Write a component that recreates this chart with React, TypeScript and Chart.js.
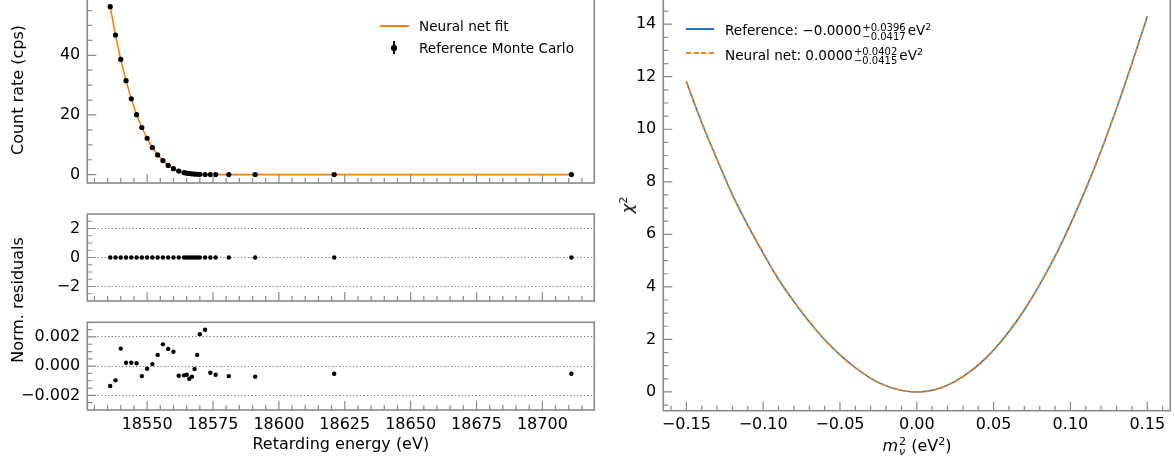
import React, { useEffect, useRef } from "react";
import { Chart, registerables } from "chart.js";

Chart.register(...registerables);

// ---------------- data ----------------
const energies = [
  18536, 18538, 18540, 18542, 18544, 18546, 18548, 18550, 18552, 18554, 18556, 18558, 18560, 18562,
  18564, 18565, 18566, 18567, 18568, 18569, 18570, 18572, 18574, 18576, 18581, 18591, 18621, 18711,
];
const countRate = [
  56.3, 46.8, 38.6, 31.5, 25.4, 20.1, 15.8, 12.2, 9.1, 6.6, 4.7, 3.1, 2.0, 1.2,
  0.7, 0.5, 0.38, 0.28, 0.2, 0.14, 0.1, 0.05, 0.03, 0.02, 0.012, 0.011, 0.01, 0.01,
];
const fitRate = [
  56.3, 46.8, 38.6, 31.5, 25.4, 20.1, 15.8, 12.2, 9.1, 6.6, 4.7, 3.1, 2.0, 1.2,
  0.7, 0.5, 0.38, 0.28, 0.2, 0.14, 0.1, 0.05, 0.03, 0.02, 0.012, 0.011, 0.01, 0.01,
];
const normResiduals = [
  0, 0, 0, 0, 0, 0, 0, 0, 0, 0, 0, 0, 0, 0,
  0, 0, 0, 0, 0, 0, 0, 0, 0, 0, 0, 0, 0, 0,
];
const relResiduals = [
  -0.00136, -0.00097, 0.0012, 0.00023, 0.00023, 0.0002, -0.00068, -0.00018, 0.00014, 0.00077,
  0.00149, 0.00118, 0.00099, -0.00066, -0.00063, -0.00059, -0.00086, -0.00072, -0.0002, 0.00077,
  0.00219, 0.00249, -0.00045, -0.00059, -0.00068, -0.00072, -0.00052, -0.00052,
];

const mSq = [
  -0.15, -0.14, -0.13, -0.12, -0.11, -0.1, -0.09, -0.08, -0.07, -0.06, -0.05, -0.04, -0.03, -0.02, -0.01,
  0, 0.01, 0.02, 0.03, 0.04, 0.05, 0.06, 0.07, 0.08, 0.09, 0.1, 0.11, 0.12, 0.13, 0.14, 0.15,
];
const chiRef = [
  11.81, 10.25, 8.85, 7.5, 6.34, 5.28, 4.28, 3.44, 2.67, 1.99, 1.41, 0.92, 0.52, 0.23, 0.06,
  0, 0.064, 0.26, 0.58, 1.03, 1.6, 2.3, 3.13, 4.09, 5.17, 6.39, 7.73, 9.19, 10.79, 12.5, 14.29,
];
const chiNN = [
  11.83, 10.27, 8.87, 7.52, 6.36, 5.3, 4.3, 3.46, 2.69, 2.0, 1.42, 0.93, 0.53, 0.23, 0.06,
  0, 0.062, 0.25, 0.57, 1.01, 1.58, 2.28, 3.11, 4.07, 5.15, 6.37, 7.71, 9.18, 10.78, 12.49, 14.29,
];

// tick values
const energyTicks = [18550, 18575, 18600, 18625, 18650, 18675, 18700];
const rateTicks = [0, 20, 40];
const normTicks = [-2, 0, 2];
const relTicks = [-0.002, 0, 0.002];
const mSqTicks = [-0.15, -0.1, -0.05, 0, 0.05, 0.1, 0.15];
const chiTicks = [0, 2, 4, 6, 8, 10, 12, 14];

// ---------------- style ----------------
const FONT = '"DejaVu Sans", sans-serif';
const SPINE = "#8a8a8a";
const ORANGE = "#ff7f0e";
const BLUE = "#1f77b4";
const TICK_FONT = 16;

const minorTicks = (lo: number, hi: number, step: number, majors: number[]) => {
  const out: number[] = [];
  const n = Math.round((hi - lo) / step);
  for (let i = 0; i <= n; i++) {
    const v = lo + i * step;
    if (!majors.some((m) => Math.abs(m - v) < step * 1e-3)) out.push(v);
  }
  return out;
};

const fmt = (d: number) => (v: number) => {
  const s = Math.abs(v) < 1e-12 ? (0).toFixed(d) : v.toFixed(d);
  return s.replace("-", "\u2212");
};

const makeFrame = (xMajor: number[], xMinor: number[], yMajor: number[], yMinor: number[]) => ({
  id: "frame",
  afterDatasetsDraw(chart: any) {
    const { ctx, chartArea: a } = chart;
    const xs = chart.scales.x;
    const ys = chart.scales.y;
    ctx.save();
    ctx.strokeStyle = SPINE;
    ctx.lineWidth = 1.2;
    ctx.beginPath();
    const tx = (v: number, len: number) => {
      const p = xs.getPixelForValue(v);
      if (p < a.left - 0.5 || p > a.right + 0.5) return;
      ctx.moveTo(p, a.bottom);
      ctx.lineTo(p, a.bottom - len);
    };
    const ty = (v: number, len: number) => {
      const p = ys.getPixelForValue(v);
      if (p < a.top - 0.5 || p > a.bottom + 0.5) return;
      ctx.moveTo(a.left, p);
      ctx.lineTo(a.left + len, p);
    };
    xMajor.forEach((v) => tx(v, 9));
    xMinor.forEach((v) => tx(v, 5));
    yMajor.forEach((v) => ty(v, 9));
    yMinor.forEach((v) => ty(v, 5));
    ctx.stroke();
    ctx.lineWidth = 1.6;
    ctx.strokeRect(a.left, a.top, a.right - a.left, a.bottom - a.top);
    ctx.restore();
  },
});

type Panel = {
  datasets: any[];
  xRange: [number, number];
  yRange: [number, number];
  xMajor: number[];
  xMinor: number[];
  yMajor: number[];
  yMinor: number[];
  xLabel: ((v: number) => string) | null;
  yLabel: (v: number) => string;
  yWidth: number;
  xHeight: number;
  padding: { top: number; right: number; bottom: number; left: number };
  yGrid: boolean;
};

const buildChart = (canvas: HTMLCanvasElement, p: Panel) =>
  new Chart(canvas, {
    type: "scatter",
    data: { datasets: p.datasets },
    options: {
      animation: false,
      responsive: false,
      devicePixelRatio: 1,
      layout: { padding: p.padding },
      plugins: { legend: { display: false }, tooltip: { enabled: false } },
      scales: {
        x: {
          type: "linear",
          min: p.xRange[0],
          max: p.xRange[1],
          afterBuildTicks: (s: any) => {
            s.ticks = p.xMajor.map((v) => ({ value: v }));
          },
          afterFit: (s: any) => {
            s.height = p.xHeight;
            s.paddingLeft = 0;
            s.paddingRight = 0;
          },
          grid: { display: false, drawTicks: false },
          border: { display: false },
          ticks: {
            display: p.xLabel !== null,
            autoSkip: false,
            maxRotation: 0,
            minRotation: 0,
            padding: 5,
            color: "#000",
            font: { family: FONT, size: TICK_FONT },
            callback: (v: any) => (p.xLabel ? p.xLabel(Number(v)) : ""),
          },
        },
        y: {
          type: "linear",
          min: p.yRange[0],
          max: p.yRange[1],
          afterBuildTicks: (s: any) => {
            s.ticks = p.yMajor.map((v) => ({ value: v }));
          },
          afterFit: (s: any) => {
            s.width = p.yWidth;
            s.paddingTop = 0;
            s.paddingBottom = 0;
          },
          grid: { display: p.yGrid, drawTicks: false, color: "#7a7a7a", lineWidth: 1 },
          border: { display: false, dash: [1.3, 2.2] },
          ticks: {
            autoSkip: false,
            padding: 7,
            color: "#000",
            font: { family: FONT, size: TICK_FONT },
            callback: (v: any) => p.yLabel(Number(v)),
          },
        },
      },
    } as any,
    plugins: [makeFrame(p.xMajor, p.xMinor, p.yMajor, p.yMinor)],
  });

const pts = (xs: number[], ys: number[]) => xs.map((x, i) => ({ x, y: ys[i] }));

export default function App() {
  const topRef = useRef<HTMLCanvasElement>(null);
  const midRef = useRef<HTMLCanvasElement>(null);
  const botRef = useRef<HTMLCanvasElement>(null);
  const rightRef = useRef<HTMLCanvasElement>(null);

  useEffect(() => {
    const eRange: [number, number] = [18527.3, 18719.7];
    const eMinor = minorTicks(18530, 18715, 5, energyTicks);
    const charts: Chart[] = [];

    charts.push(
      buildChart(topRef.current!, {
        datasets: [
          {
            label: "Reference Monte Carlo",
            data: pts(energies, countRate),
            showLine: false,
            pointRadius: 2.6,
            pointBackgroundColor: "#000",
            pointBorderWidth: 0,
          },
          {
            label: "Neural net fit",
            data: pts(energies, fitRate),
            showLine: true,
            borderColor: ORANGE,
            borderWidth: 1.6,
            pointRadius: 0,
            tension: 0,
          },
        ],
        xRange: eRange,
        yRange: [-2.8, 59.1],
        xMajor: energyTicks,
        xMinor: eMinor,
        yMajor: rateTicks,
        yMinor: minorTicks(5, 55, 5, rateTicks),
        xLabel: null,
        yLabel: fmt(0),
        yWidth: 87.3,
        xHeight: 7,
        padding: { top: 18.3, right: 5.7, bottom: 0, left: 0 },
        yGrid: false,
      })
    );

    charts.push(
      buildChart(midRef.current!, {
        datasets: [
          {
            label: "Norm. residuals",
            data: pts(energies, normResiduals),
            showLine: false,
            pointRadius: 2.2,
            pointBackgroundColor: "#000",
            pointBorderWidth: 0,
          },
        ],
        xRange: eRange,
        yRange: [-3, 3],
        xMajor: energyTicks,
        xMinor: eMinor,
        yMajor: normTicks,
        yMinor: minorTicks(-2.5, 2.5, 0.5, normTicks),
        xLabel: null,
        yLabel: fmt(0),
        yWidth: 87.3,
        xHeight: 9,
        padding: { top: 14, right: 5.7, bottom: 0, left: 0 },
        yGrid: true,
      })
    );

    charts.push(
      buildChart(botRef.current!, {
        datasets: [
          {
            label: "Relative residuals",
            data: pts(energies, relResiduals),
            showLine: false,
            pointRadius: 2.2,
            pointBackgroundColor: "#000",
            pointBorderWidth: 0,
          },
        ],
        xRange: eRange,
        yRange: [-0.003, 0.003],
        xMajor: energyTicks,
        xMinor: eMinor,
        yMajor: relTicks,
        yMinor: minorTicks(-0.0025, 0.0025, 0.0005, relTicks),
        xLabel: fmt(0),
        yLabel: fmt(3),
        yWidth: 87.3,
        xHeight: 50,
        padding: { top: 12.3, right: 5.7, bottom: 0, left: 0 },
        yGrid: true,
      })
    );

    charts.push(
      buildChart(rightRef.current!, {
        datasets: [
          {
            label: "Neural net",
            data: pts(mSq, chiNN),
            showLine: true,
            borderColor: ORANGE,
            borderWidth: 1.5,
            borderDash: [5, 2.5],
            pointRadius: 0,
            cubicInterpolationMode: "monotone",
          },
          {
            label: "Reference",
            data: pts(mSq, chiRef),
            showLine: true,
            borderColor: BLUE,
            borderWidth: 1.5,
            pointRadius: 0,
            cubicInterpolationMode: "monotone",
          },
        ],
        xRange: [-0.165, 0.165],
        yRange: [-0.714, 15.0],
        xMajor: mSqTicks,
        xMinor: minorTicks(-0.16, 0.16, 0.01, mSqTicks),
        yMajor: chiTicks,
        yMinor: minorTicks(-0.5, 14.5, 0.5, chiTicks),
        xLabel: fmt(2),
        yLabel: fmt(0),
        yWidth: 63.3,
        xHeight: 49.3,
        padding: { top: 17.9, right: 4.7, bottom: 0, left: 0 },
        yGrid: false,
      })
    );

    return () => charts.forEach((c) => c.destroy());
  }, []);

  const abs = (l: number, t: number, w: number, h: number): React.CSSProperties => ({
    position: "absolute",
    left: l,
    top: t,
    width: w,
    height: h,
    display: "block",
  });

  const centerText = (x: number, y: number, rotate = false): React.CSSProperties => ({
    position: "absolute",
    left: x,
    top: y,
    transform: rotate ? "translate(-50%,-50%) rotate(-90deg)" : "translate(-50%,-50%)",
    whiteSpace: "nowrap",
    fontSize: 16,
    lineHeight: "20px",
  });

  const legendText = (x: number, y: number): React.CSSProperties => ({
    position: "absolute",
    left: x,
    top: y,
    transform: "translateY(-50%)",
    whiteSpace: "nowrap",
    fontSize: 13.6,
    lineHeight: "18px",
  });

  const stack = (up: string, down: string) => (
    <span
      style={{
        display: "inline-flex",
        flexDirection: "column",
        fontSize: 10,
        lineHeight: "9px",
        verticalAlign: "middle",
        margin: "0 2px 0 1px",
      }}
    >
      <span>{up}</span>
      <span>{down}</span>
    </span>
  );

  return (
    <div
      style={{
        position: "fixed",
        left: 0,
        top: 0,
        width: 1175,
        height: 460,
        background: "#fff",
        overflow: "hidden",
        fontFamily: FONT,
        color: "#000",
      }}
    >
      <canvas ref={topRef} width={600} height={210} style={abs(0, -20, 600, 210)} />
      <canvas ref={midRef} width={600} height={110} style={abs(0, 200, 600, 110)} />
      <canvas ref={botRef} width={600} height={150} style={abs(0, 310, 600, 150)} />
      <canvas ref={rightRef} width={575} height={480} style={abs(600, -20, 575, 480)} />

      {/* axis titles */}
      <div style={centerText(18, 90, true)}>Count rate (cps)</div>
      <div style={centerText(18, 300, true)}>Norm. residuals</div>
      <div style={centerText(340.8, 444)}>Retarding energy (eV)</div>
      <div style={centerText(626, 205, true)}>
        <span style={{ fontStyle: "italic" }}>χ</span>
        <span style={{ fontSize: 11, verticalAlign: "0.55em" }}>2</span>
      </div>
      <div style={centerText(917, 444)}>
        <span style={{ fontStyle: "italic" }}>m</span>
        <span
          style={{
            display: "inline-flex",
            flexDirection: "column",
            fontSize: 11,
            lineHeight: "10px",
            verticalAlign: "middle",
            marginLeft: 1,
          }}
        >
          <span>2</span>
          <span style={{ fontStyle: "italic" }}>ν</span>
        </span>
        {" (eV"}
        <span style={{ fontSize: 11, verticalAlign: "0.55em" }}>2</span>
        {")"}
      </div>

      {/* left legend */}
      <div style={{ position: "absolute", left: 380, top: 25, width: 29, height: 2, background: ORANGE }} />
      <div style={legendText(419, 26)}>Neural net fit</div>
      <div style={{ position: "absolute", left: 393, top: 41, width: 1.5, height: 13, background: "#000" }} />
      <div
        style={{
          position: "absolute",
          left: 391,
          top: 45,
          width: 5.5,
          height: 5.5,
          borderRadius: "50%",
          background: "#000",
        }}
      />
      <div style={legendText(419, 47.5)}>Reference Monte Carlo</div>

      {/* right legend */}
      <div style={{ position: "absolute", left: 686, top: 28, width: 28, height: 2, background: BLUE }} />
      <div style={legendText(725, 29.3)}>
        Reference: −0.0000{stack("+0.0396", "−0.0417")}eV
        <span style={{ fontSize: 9.5, verticalAlign: "0.55em" }}>2</span>
      </div>
      <div
        style={{
          position: "absolute",
          left: 686,
          top: 52,
          width: 28,
          height: 2,
          backgroundImage: `repeating-linear-gradient(90deg, ${ORANGE} 0px, ${ORANGE} 5px, rgba(255,255,255,0) 5px, rgba(255,255,255,0) 7.5px)`,
        }}
      />
      <div style={legendText(725, 53.5)}>
        Neural net: 0.0000{stack("+0.0402", "−0.0415")}eV
        <span style={{ fontSize: 9.5, verticalAlign: "0.55em" }}>2</span>
      </div>
    </div>
  );
}
